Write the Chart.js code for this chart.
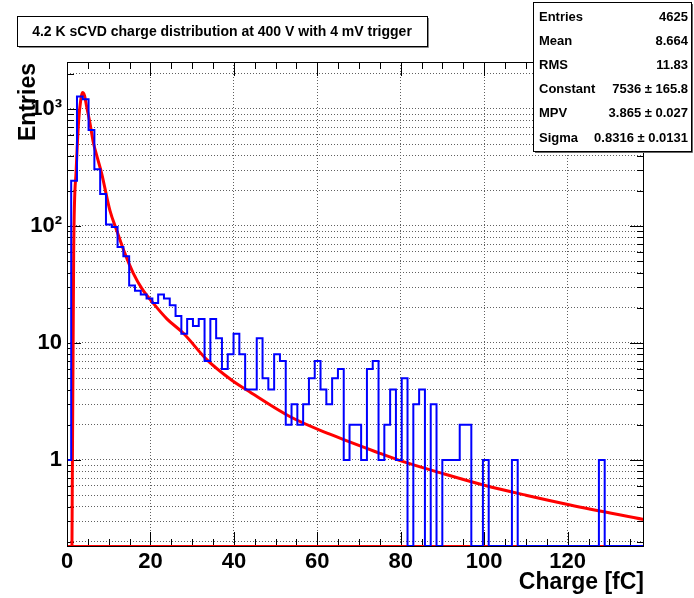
<!DOCTYPE html>
<html>
<head>
<meta charset="utf-8">
<script src="https://cdn.jsdelivr.net/npm/chart.js@4.4.0/dist/chart.umd.min.js"></script>
<style>
  html, body { margin: 0; padding: 0; background: #fff; }
  canvas { display: block; }
</style>
</head>
<body>
<canvas id="chart" width="694" height="598"></canvas>
<script>
// ---- data ----
const titleText = '4.2 K sCVD charge distribution at 400 V with 4 mV trigger';
const xTitle = 'Charge [fC]';
const yTitle = 'Entries';

// histogram: uniform bins, first edge and width in fC
const binStart = -0.39;
const binWidth = 1.39;
const binCounts = [
  1, 243, 1280, 1210, 660, 305, 188, 103, 98, 66,
  55, 31, 28, 26, 24, 22, 26, 24, 21, 17,
  12, 16, 14, 16, 7, 16, 11, 6, 8, 12,
  8, 4, 4, 11, 5, 4, 8, 7, 2, 3,
  2, 3, 5, 7, 4, 3, 5, 6, 1, 2,
  2, 1, 6, 7, 1, 2, 4, 1, 5, 0,
  3, 4, 0, 3, 0, 1, 1, 1, 2, 2,
  0, 0, 1, 0, 0, 0, 0, 1, 0, 0,
  0, 0, 0, 0, 0, 0, 0, 0, 0, 0,
  0, 0, 1, 0, 0, 0, 0, 0, 0, 0, 0
];

// Landau fit curve
const fitX = [1.15, 1.6, 2.2, 2.8, 3.3, 3.7, 4.2, 4.7, 5.5, 6.3, 7.3, 8.3, 10.3, 11.9, 13.9, 15.9,
  18.0, 20.7, 24.0, 27.9, 33.5, 39.5, 43.1, 53.5, 63.0, 75.0, 80.6, 89.3, 99.8, 110.0, 120.6, 138.3];
const fitY = [0.1, 60, 300, 800, 1200, 1380, 1300, 1050, 760, 520, 380, 282, 135, 92, 58, 39.4,
  29, 21.8, 16, 12.1, 7.2, 4.8, 3.96, 2.34, 1.66, 1.14, 0.967, 0.78, 0.611, 0.5, 0.413, 0.31];

// axes
const xRange = [0, 138.3];
const yRange = [0.184, 2520];
const xTickValues = [0, 20, 40, 60, 80, 100, 120];
const yTickValues = [0.2, 0.3, 0.4, 0.5, 0.6, 0.7, 0.8, 0.9,
  1, 2, 3, 4, 5, 6, 7, 8, 9,
  10, 20, 30, 40, 50, 60, 70, 80, 90,
  100, 200, 300, 400, 500, 600, 700, 800, 900,
  1000, 2000];
const yTickLabels = { 1: '1', 10: '10', 100: '10\u00B2', 1000: '10\u00B3' };

// stats box
const statNames = ['Entries', 'Mean', 'RMS', 'Constant', 'MPV', 'Sigma'];
const statValues = ['4625', '8.664', '11.83', '7536 \u00B1 165.8', '3.865 \u00B1 0.027', '0.8316 \u00B1 0.0131'];

const FONT = '"Liberation Sans", Arial, Helvetica, sans-serif';

// histogram outline points (left edges, plus closing edge)
const histPoints = binCounts.map((c, i) => ({ x: binStart + i * binWidth, y: c > 0 ? c : yRange[0] }));
histPoints.push({ x: binStart + binCounts.length * binWidth, y: yRange[0] });
const fitPoints = fitX.map((x, i) => ({ x: x, y: fitY[i] }));

const rootDecor = {
  id: 'rootDecor',
  beforeDatasetsDraw(chart) {
    const { ctx, chartArea: a, scales: { x, y } } = chart;
    ctx.save();
    // inward tick marks on all four sides
    ctx.strokeStyle = '#000';
    ctx.lineWidth = 1;
    ctx.beginPath();
    for (let v = 0; v <= xRange[1]; v += 5) {
      const px = Math.round(x.getPixelForValue(v)) + 0.5;
      const len = v % 20 === 0 ? 14 : 7;
      ctx.moveTo(px, a.bottom); ctx.lineTo(px, a.bottom - len);
      ctx.moveTo(px, a.top); ctx.lineTo(px, a.top + len);
    }
    yTickValues.forEach(v => {
      const py = Math.round(y.getPixelForValue(v)) + 0.5;
      const len = yTickLabels[v] ? 14 : 7;
      ctx.moveTo(a.left, py); ctx.lineTo(a.left + len, py);
      ctx.moveTo(a.right, py); ctx.lineTo(a.right - len, py);
    });
    ctx.stroke();
    // red line running along the bottom of the frame
    ctx.beginPath();
    ctx.rect(a.left, a.top, a.right - a.left, a.bottom - a.top);
    ctx.clip();
    ctx.strokeStyle = '#ff0000';
    ctx.lineWidth = 2;
    ctx.beginPath();
    ctx.moveTo(a.left, a.bottom); ctx.lineTo(a.right, a.bottom);
    ctx.stroke();
    ctx.restore();
  },
  afterDatasetsDraw(chart) {
    const { ctx, chartArea: a } = chart;
    ctx.save();
    // frame
    ctx.strokeStyle = '#000';
    ctx.lineWidth = 1;
    ctx.strokeRect(a.left + 0.5, a.top + 0.5, a.right - a.left - 1, a.bottom - a.top);

    // axis titles
    ctx.fillStyle = '#000';
    ctx.font = 'bold 23px ' + FONT;
    ctx.textAlign = 'right';
    ctx.textBaseline = 'alphabetic';
    ctx.fillText(xTitle, a.right, 589);
    ctx.save();
    ctx.translate(35, a.top + 1);
    ctx.rotate(-Math.PI / 2);
    ctx.fillText(yTitle, 0, 0);
    ctx.restore();

    // title box
    ctx.fillStyle = '#fff';
    ctx.fillRect(17, 16, 411, 30);
    ctx.strokeStyle = '#000';
    ctx.strokeRect(17.5, 16.5, 410, 30);
    ctx.strokeStyle = '#888';
    ctx.beginPath();
    ctx.moveTo(428.5, 18); ctx.lineTo(428.5, 47.5); ctx.lineTo(19, 47.5);
    ctx.stroke();
    ctx.fillStyle = '#000';
    ctx.font = 'bold 14px ' + FONT;
    ctx.textAlign = 'center';
    ctx.textBaseline = 'middle';
    ctx.fillText(titleText, 222, 32);

    // stats box
    ctx.fillStyle = '#fff';
    ctx.fillRect(533, 2, 159, 150);
    ctx.strokeStyle = '#000';
    ctx.strokeRect(533.5, 2.5, 158, 149);
    ctx.strokeStyle = '#666';
    ctx.beginPath();
    ctx.moveTo(692.5, 4); ctx.lineTo(692.5, 152.5); ctx.lineTo(535, 152.5);
    ctx.stroke();
    ctx.fillStyle = '#000';
    ctx.font = 'bold 13px ' + FONT;
    ctx.textBaseline = 'middle';
    statNames.forEach((name, i) => {
      const ty = 17 + i * 24.2;
      ctx.textAlign = 'left';
      ctx.fillText(name, 539, ty);
      ctx.textAlign = 'right';
      ctx.fillText(statValues[i], 688, ty);
    });
    ctx.restore();
  }
};

const ctx = document.getElementById('chart').getContext('2d');
new Chart(ctx, {
  type: 'line',
  data: {
    datasets: [
      {
        label: 'hist',
        data: histPoints,
        stepped: 'before',
        borderColor: '#0000ff',
        borderWidth: 2,
        pointRadius: 0,
        fill: false,
        clip: 0
      },
      {
        label: 'fit',
        data: fitPoints,
        borderColor: '#ff0000',
        borderWidth: 3,
        pointRadius: 0,
        fill: false,
        cubicInterpolationMode: 'monotone',
        clip: 0
      }
    ]
  },
  options: {
    responsive: false,
    animation: false,
    events: [],
    layout: { padding: { top: 62, right: 50, left: 0, bottom: 0 } },
    plugins: {
      legend: { display: false },
      tooltip: { enabled: false }
    },
    scales: {
      x: {
        type: 'linear',
        min: xRange[0],
        max: xRange[1],
        afterFit: s => { s.height = 52; },
        afterBuildTicks: s => { s.ticks = xTickValues.map(v => ({ value: v })); },
        grid: { color: '#606060', lineWidth: 1, drawTicks: false },
        border: { display: false, dash: [1, 2] },
        ticks: {
          color: '#000',
          font: { family: FONT, weight: 'bold', size: 22 },
          padding: 3,
          maxRotation: 0,
          autoSkip: false,
          callback: v => String(v)
        }
      },
      y: {
        type: 'logarithmic',
        min: yRange[0],
        max: yRange[1],
        afterFit: s => { s.width = 67; },
        afterBuildTicks: s => { s.ticks = yTickValues.map(v => ({ value: v })); },
        grid: { color: '#606060', lineWidth: 1, drawTicks: false },
        border: { display: false, dash: [1, 2] },
        ticks: {
          color: '#000',
          font: { family: FONT, weight: 'bold', size: 22 },
          padding: 5,
          autoSkip: false,
          callback: v => yTickLabels[v] || ''
        }
      }
    }
  },
  plugins: [rootDecor]
});
</script>
</body>
</html>
